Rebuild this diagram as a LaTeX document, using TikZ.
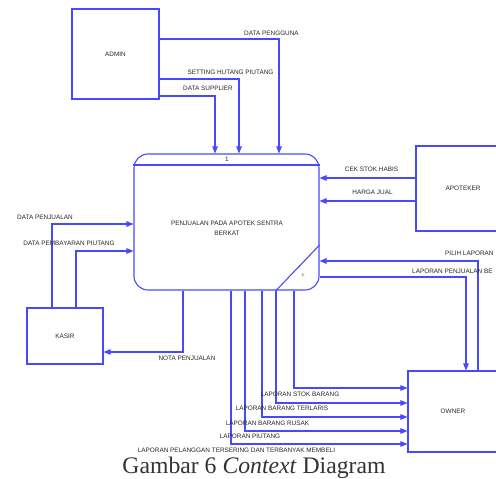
\documentclass[tikz,border=0pt]{standalone}
\usepackage{fontspec}
\setmainfont{Liberation Serif}
\newfontfamily\labfont{Liberation Sans}
\usetikzlibrary{arrows.meta}
\definecolor{dfdblue}{RGB}{72,72,255}
\begin{document}
\begin{tikzpicture}[x=1pt,y=-1pt,
  ln/.style={draw=dfdblue,line width=1.1pt},
  flow/.style={ln,-{Triangle[length=7pt,width=5.5pt]}},
  lbl/.style={font=\labfont\fontsize{6.4}{10}\selectfont,text=black!85,inner sep=0pt},
  entity/.style={ln,rectangle,inner sep=0pt,font=\labfont\fontsize{6.4}{8}\selectfont,text=black!85},
  procbox/.style={ln,rectangle,rounded corners=14pt,inner sep=0pt}]
\useasboundingbox (0,0) rectangle (496,479);
\clip (0,0) rectangle (496,479);

% entities
\node[entity,minimum width=87pt,minimum height=90pt] (admin) at (115.5,54) {ADMIN};
\node[entity,minimum width=76pt,minimum height=56pt] (kasir) at (65,336) {KASIR};
\node[entity,minimum width=94pt,minimum height=85pt] (apoteker) at (463,188.5) {APOTEKER};
\node[entity,minimum width=90pt,minimum height=81pt] (owner) at (453,411.5) {OWNER};

% process
\node[procbox,minimum width=185pt,minimum height=136pt] (proc) at (226.5,222) {};
\draw[ln] (proc.west |- 0,165) -- (proc.east |- 0,165);
\draw[ln] (proc.east |- 0,245) -- (276,0 |- proc.south);
\node[lbl] (pnum) at (227,159) {1};
\node[lbl,text=black!60] (plus) at (303,276) {+};
\node[lbl,align=center] (ptext) at (227,228) {PENJUALAN PADA APOTEK SENTRA\\BERKAT};

% admin flows
\draw[flow] (admin.east |- 0,39) -| (279,0 |- proc.north);
\draw[flow] (admin.east |- 0,79) -| (239,0 |- proc.north);
\draw[flow] (admin.east |- 0,96) -| (215,0 |- proc.north);
\node[lbl] (l1) at (271.5,33) {DATA PENGGUNA};
\node[lbl] (l2) at (230.5,72) {SETTING HUTANG PIUTANG};
\node[lbl] (l3) at (208,88) {DATA SUPPLIER};

% kasir flows
\draw[flow] (52,0 |- kasir.north) |- (proc.west |- 0,224);
\draw[flow] (76,0 |- kasir.north) |- (proc.west |- 0,251);
\draw[flow] (183,0 |- proc.south) |- (kasir.east |- 0,352);
\node[lbl] (l4) at (45,217) {DATA PENJUALAN};
\node[lbl] (l5) at (69,243) {DATA PEMBAYARAN PIUTANG};
\node[lbl] (l6) at (187,358) {NOTA PENJUALAN};

% apoteker flows
\draw[flow] (apoteker.west |- 0,178) -- (proc.east |- 0,178);
\draw[flow] (apoteker.west |- 0,201) -- (proc.east |- 0,201);
\node[lbl] (l7) at (371.5,169) {CEK STOK HABIS};
\node[lbl] (l8) at (372.5,192) {HARGA JUAL};

% owner flows (right)
\draw[flow] (478,0 |- owner.north) |- (proc.east |- 0,261);
\draw[flow] (proc.east |- 0,277) -| (466,0 |- owner.north);
\node[lbl,anchor=west] (l9) at (445,253) {PILIH LAPORAN};
\node[lbl,anchor=west] (l10) at (412,271) {LAPORAN PENJUALAN BE};

% owner flows (bottom)
\draw[flow] (294,0 |- proc.south) |- (owner.west |- 0,388);
\draw[flow] (276,0 |- proc.south) |- (owner.west |- 0,403);
\draw[flow] (262,0 |- proc.south) |- (owner.west |- 0,417);
\draw[flow] (245,0 |- proc.south) |- (owner.west |- 0,431);
\draw[flow] (231,0 |- proc.south) |- (owner.west |- 0,444);
\node[lbl] (l11) at (300,394) {LAPORAN STOK BARANG};
\node[lbl] (l12) at (282,408) {LAPORAN BARANG TERLARIS};
\node[lbl] (l13) at (267.5,423) {LAPORAN BARANG RUSAK};
\node[lbl] (l14) at (250,436) {LAPORAN PIUTANG};
\node[lbl] (l15) at (236.5,450) {LAPORAN PELANGGAN TERSERING DAN TERBANYAK MEMBELI};

% caption
\node[font=\fontsize{23.7}{26}\selectfont,text=black!80,inner sep=0pt,anchor=base] (cap) at (254,473.5) {Gambar 6 \textit{Context} Diagram};
\end{tikzpicture}
\end{document}
